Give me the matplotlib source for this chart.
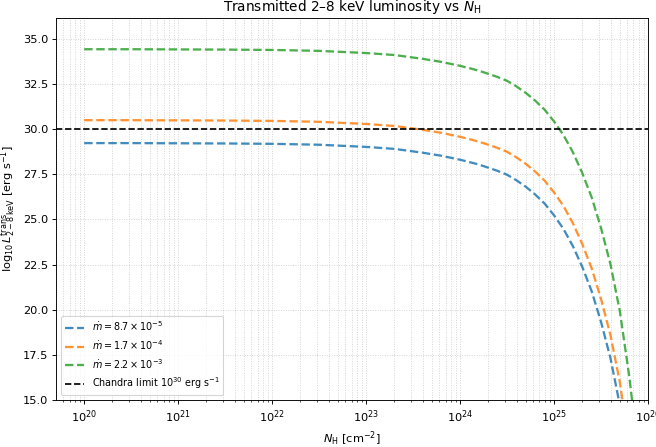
import numpy as np
import matplotlib
matplotlib.use("Agg")
import matplotlib.pyplot as plt

# log10(N_H) sample points
log_nh = [20.0, 20.5, 21.0, 21.5, 22.0, 22.5, 23.0, 23.3, 23.6, 23.8, 24.0, 24.1, 24.2, 24.3,
          24.4, 24.5, 24.6, 24.7, 24.8, 24.9, 25.0, 25.1, 25.2, 25.3, 25.4, 25.5, 25.6,
          25.7, 25.8, 25.9]

lum_low = [29.23, 29.23, 29.22, 29.21, 29.19, 29.14, 29.02, 28.91, 28.70, 28.53, 28.31, 28.18,
           28.04, 27.87, 27.69, 27.48, 27.17, 26.81, 26.38, 25.88, 25.23, 24.48, 23.53, 22.38,
           21.03, 19.33, 17.33, 14.73, 11.13, 6.73]
lum_mid = [30.50, 30.50, 30.49, 30.48, 30.46, 30.41, 30.29, 30.18, 29.97, 29.80, 29.58, 29.45,
           29.31, 29.14, 28.96, 28.75, 28.44, 28.08, 27.65, 27.15, 26.50, 25.75, 24.80, 23.65,
           22.30, 20.60, 18.60, 16.00, 12.40, 8.00]
lum_high = [34.43, 34.43, 34.42, 34.41, 34.39, 34.34, 34.22, 34.11, 33.90, 33.73, 33.51, 33.38,
            33.24, 33.07, 32.89, 32.68, 32.37, 32.01, 31.58, 31.08, 30.43, 29.68, 28.73, 27.58,
            26.23, 24.53, 22.53, 19.93, 16.33, 11.93]

labels = [r"$\dot{m} = 8.7\times10^{-5}$",
          r"$\dot{m} = 1.7\times10^{-4}$",
          r"$\dot{m} = 2.2\times10^{-3}$"]
chandra_limit = 30.0

nh = 10.0 ** np.array(log_nh)

fig = plt.figure(figsize=(8.0, 447 / 82), dpi=82)
ax = fig.add_axes([56 / 656, 1 - 400 / 447, 592 / 656, 382 / 447])

for y, lab, c in zip([lum_low, lum_mid, lum_high], labels, ["C0", "C1", "C2"]):
    ax.plot(nh, y, ls="--", lw=2, color=c, alpha=0.85, label=lab)
ax.axhline(chandra_limit, color="k", ls="--", lw=1.5,
           label=r"Chandra limit $10^{30}$ erg s$^{-1}$")

ax.set_xscale("log")
ax.set_xlim(10 ** 19.7, 1e26)
ax.set_ylim(15, 36.16)
ax.grid(True, which="both", ls=":", alpha=0.6)
ax.set_xlabel(r"$N_{\rm H}$ [cm$^{-2}$]")
ax.set_ylabel(r"$\log_{10} L^{\rm trans}_{2-8\,\rm keV}$ [erg s$^{-1}$]")
ax.set_title(r"Transmitted 2–8 keV luminosity vs $N_{\rm H}$")
ax.legend(loc="lower left", fontsize=8.5)

fig.savefig("out.png", dpi=82)
